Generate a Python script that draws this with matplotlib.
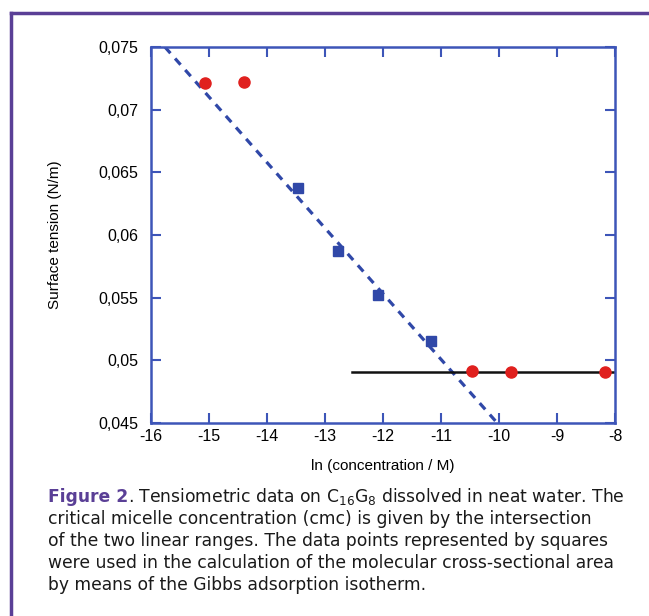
import matplotlib
matplotlib.use("Agg")
import matplotlib.pyplot as plt
from matplotlib.lines import Line2D

# ---- data ----
circle_x = [-15.07, -14.40, -10.47, -9.79, -8.18]
circle_y = [0.0721, 0.0722, 0.04915, 0.04905, 0.04905]
square_x = [-13.47, -12.77, -12.08, -11.18]
square_y = [0.06375, 0.05875, 0.05525, 0.05155]
fit_steep_x = [-15.76, -10.03]
fit_steep_y = [0.075, 0.045]
fit_flat_x = [-12.53, -8.0]
fit_flat_y = [0.04905, 0.04905]
xticks = [-16, -15, -14, -13, -12, -11, -10, -9, -8]
xticklabels = ["-16", "-15", "-14", "-13", "-12", "-11", "-10", "-9", "-8"]
yticks = [0.045, 0.05, 0.055, 0.06, 0.065, 0.07, 0.075]
yticklabels = ["0,045", "0,05", "0,055", "0,06", "0,065", "0,07", "0,075"]

BLUE = "#3048a8"
SPINE = "#3d55b8"
RED = "#e0201e"
PURPLE = "#5a3f96"

fig = plt.figure(figsize=(6.49, 6.16), dpi=100)
W, H = 649, 616
ax = fig.add_axes([151 / W, 1 - 423 / H, 464 / W, 376 / H])

ax.plot(fit_steep_x, fit_steep_y, color=BLUE, lw=2.3, ls=(0, (2.6, 2.2)), zorder=2)
ax.plot(fit_flat_x, fit_flat_y, color="#111111", lw=1.8, zorder=2)
ax.plot(square_x, square_y, ls="none", marker="s", ms=7, color=BLUE, zorder=3)
ax.plot(circle_x, circle_y, ls="none", marker="o", ms=8, color=RED, zorder=3)

ax.set_xlim(-16, -8)
ax.set_ylim(0.045, 0.075)
ax.set_xticks(xticks)
ax.set_xticklabels(xticklabels)
ax.set_yticks(yticks)
ax.set_yticklabels(yticklabels)
for lab in ax.get_xticklabels() + ax.get_yticklabels():
    lab.set_fontfamily("Liberation Sans")
    lab.set_fontsize(11.5)
ax.tick_params(direction="in", length=7, width=1.5, color=SPINE,
               top=True, right=True)
ax.tick_params(axis="y", pad=9)
ax.tick_params(axis="x", pad=4)
for s in ax.spines.values():
    s.set_color(SPINE)
    s.set_linewidth(1.8)

ax.set_xlabel("ln (concentration / M)", family="Liberation Sans", size=11, labelpad=11)
ax.set_ylabel("Surface tension (N/m)", family="Liberation Sans", size=11, labelpad=26)

# purple open frame
fig.add_artist(Line2D([11 / W, 11 / W], [0, 1 - 13 / H], transform=fig.transFigure,
                      color=PURPLE, lw=2.5))
fig.add_artist(Line2D([11 / W, 1], [1 - 13 / H, 1 - 13 / H], transform=fig.transFigure,
                      color=PURPLE, lw=2.5))

cap_font = "DejaVu Sans"
x0 = 48 / W
lines = ["critical micelle concentration (cmc) is given by the intersection",
         "of the two linear ranges. The data points represented by squares",
         "were used in the calculation of the molecular cross-sectional area",
         "by means of the Gibbs adsorption isotherm."]
# fit font size so the caption block spans about the same width as in the figure
probe = fig.text(0, 0, lines[2], family=cap_font, size=12)
fig.canvas.draw()
w = probe.get_window_extent().width
probe.remove()
fs = 12 * 563 / w

t1 = fig.text(x0, 1 - 502 / H, "Figure 2", color=PURPLE, weight="bold",
              family=cap_font, size=fs, va="baseline")
fig.canvas.draw()
ex = t1.get_window_extent()
fig.text(ex.x1 / W, 1 - 502 / H,
         ". Tensiometric data on C$_{16}$G$_8$ dissolved in neat water. The",
         family=cap_font, size=fs, va="baseline", color="#1a1a1a")
for i, l in enumerate(lines):
    fig.text(x0, 1 - (524 + 22 * i) / H, l, family=cap_font, size=fs,
             va="baseline", color="#1a1a1a")

fig.savefig("out.png", dpi=100)
